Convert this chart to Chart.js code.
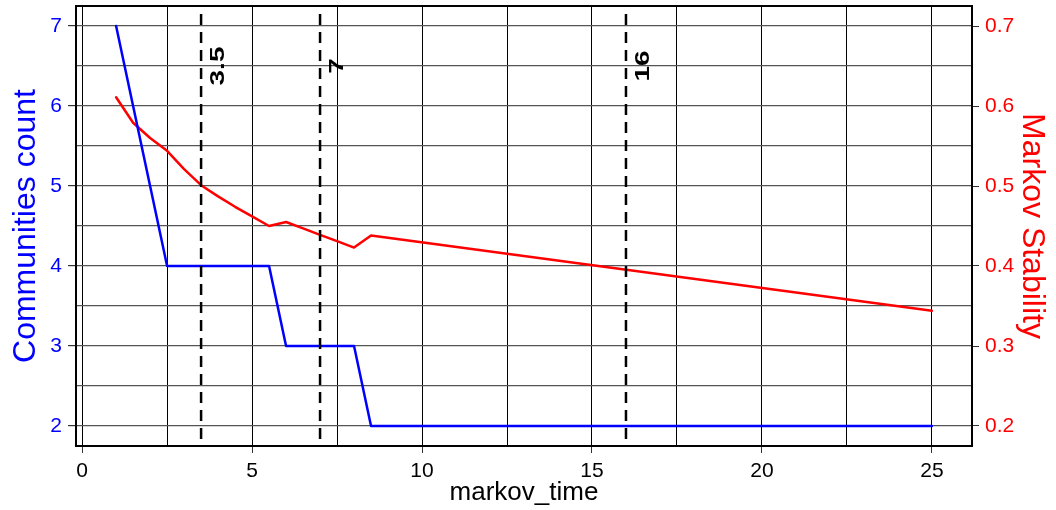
<!DOCTYPE html>
<html>
<head>
<meta charset="utf-8">
<script src="https://cdn.jsdelivr.net/npm/chart.js@4"></script>
<style>
  body { margin: 0; background: #fff; }
  #wrap { width: 1056px; height: 510px; position: relative; }
</style>
</head>
<body>
<div id="wrap"><canvas id="markov-chart"></canvas></div>
<script>
// markov time values (shared by both series)
const markovTime = [1, 1.5, 2, 2.5, 3, 3.5, 4, 4.5, 5, 5.5, 6, 6.5, 7, 7.5, 8, 8.5, 25]
// number of communities found at each markov time
const communities = [7, 6, 5, 4, 4, 4, 4, 4, 4, 4, 3, 3, 3, 3, 3, 2, 2]
// markov stability at each markov time
const stability = [0.611, 0.579, 0.560, 0.544, 0.521, 0.501, 0.487, 0.474, 0.462, 0.450,
                   0.455, 0.447, 0.439, 0.431, 0.423, 0.438, 0.344]
// marked markov times (dashed lines)
const markedTimes = [3.5, 7, 16]
const markedLabels = ['3.5', '7', '16']
// grid / tick values
const xGridTicks = [0, 2.5, 5, 7.5, 10, 12.5, 15, 17.5, 20, 22.5, 25]
const countGridTicks = [2, 2.5, 3, 3.5, 4, 4.5, 5, 5.5, 6, 6.5, 7]
const stabilityTicks = [0.2, 0.3, 0.4, 0.5, 0.6, 0.7]

const FONT = 'Liberation Sans, Arial, Helvetica, sans-serif'

// dashed vertical lines with rotated labels + frame round the plot
const markerPlugin = {
  id: 'markers',
  afterDatasetsDraw(chart) {
    const {ctx, chartArea, scales} = chart
    ctx.save()
    ctx.strokeStyle = '#000'
    ctx.lineWidth = 2.5
    ctx.setLineDash([11, 7])
    markedTimes.forEach((t, i) => {
      const px = scales.x.getPixelForValue(t)
      ctx.beginPath()
      ctx.moveTo(px, chartArea.top + 8)
      ctx.lineTo(px, chartArea.bottom)
      ctx.stroke()
      // label, reading bottom to top
      ctx.save()
      ctx.translate(px, scales.y.getPixelForValue(6.5))
      ctx.rotate(-Math.PI / 2)
      ctx.scale(1.4, 1)
      ctx.fillStyle = '#000'
      ctx.font = 'bold 20px ' + FONT
      ctx.textAlign = 'center'
      ctx.textBaseline = 'alphabetic'
      ctx.fillText(markedLabels[i], 0, 23)
      ctx.restore()
    })
    ctx.restore()
  },
  afterDraw(chart) {
    const {ctx, chartArea} = chart
    ctx.save()
    ctx.setLineDash([])
    ctx.strokeStyle = '#000'
    ctx.lineWidth = 2
    ctx.strokeRect(chartArea.left, chartArea.top, chartArea.right - chartArea.left, chartArea.bottom - chartArea.top)
    ctx.restore()
  }
}

function noPadding(scale) {
  scale.paddingTop = 0
  scale.paddingBottom = 0
  scale.paddingLeft = 0
  scale.paddingRight = 0
}

const chartCanvas = document.querySelector('#markov-chart')

const markovChart = new Chart(chartCanvas, {
  type: 'line',
  data: {
    datasets: [
      {
        label: 'Communities count',
        data: markovTime.map((t, i) => ({x: t, y: communities[i]})),
        borderColor: '#0000ff',
        borderWidth: 2.5,
        pointRadius: 0,
        yAxisID: 'y'
      },
      {
        label: 'Markov Stability',
        data: markovTime.map((t, i) => ({x: t, y: stability[i]})),
        borderColor: '#ff0000',
        borderWidth: 2.5,
        pointRadius: 0,
        yAxisID: 'y2'
      }
    ]
  },
  options: {
    responsive: true,
    maintainAspectRatio: false,
    animation: false,
    layout: { padding: { top: 6, left: 0, right: 0, bottom: 0 } },
    elements: { line: { tension: 0, borderJoinStyle: 'round', borderCapStyle: 'round' } },
    plugins: {
      legend: { display: false },
      tooltip: { enabled: false }
    },
    scales: {
      x: {
        type: 'linear',
        min: -0.18,
        max: 26.18,
        afterBuildTicks(scale) { scale.ticks = xGridTicks.map(v => ({value: v})) },
        afterFit(scale) { scale.height = 64; noPadding(scale) },
        border: { display: false },
        grid: {
          color: '#000',
          lineWidth: 1,
          tickLength: 7,
          tickColor: (c) => (c.tick && c.tick.value % 5 === 0) ? '#333' : 'rgba(0,0,0,0)'
        },
        ticks: {
          autoSkip: false,
          maxRotation: 0,
          padding: 6,
          color: '#000',
          font: { family: FONT, size: 21 },
          callback: (v) => v % 5 === 0 ? v : ''
        },
        title: {
          display: true,
          text: 'markov_time',
          color: '#000',
          font: { family: FONT, size: 26, lineHeight: 1 },
          padding: { top: 0, bottom: 4 }
        }
      },
      y: {
        position: 'left',
        min: 1.75,
        max: 7.25,
        afterBuildTicks(scale) { scale.ticks = countGridTicks.map(v => ({value: v})) },
        afterFit(scale) { scale.width = 76; noPadding(scale) },
        border: { display: false },
        grid: {
          color: '#555',
          lineWidth: 1.2,
          tickLength: 8,
          tickColor: (c) => (c.tick && c.tick.value % 1 === 0) ? '#333' : 'rgba(0,0,0,0)'
        },
        ticks: {
          autoSkip: false,
          padding: 6,
          color: '#0000ff',
          font: { family: FONT, size: 21 },
          callback: (v) => v % 1 === 0 ? v : ''
        },
        title: {
          display: true,
          text: 'Communities count',
          color: '#0000ff',
          font: { family: FONT, size: 32, lineHeight: 1 },
          padding: { top: 10, bottom: 0 }
        }
      },
      y2: {
        position: 'right',
        min: 0.175,
        max: 0.725,
        afterBuildTicks(scale) { scale.ticks = stabilityTicks.map(v => ({value: v})) },
        afterFit(scale) { scale.width = 84; noPadding(scale) },
        border: { display: false },
        grid: {
          drawOnChartArea: false,
          tickLength: 7,
          tickColor: '#333'
        },
        ticks: {
          autoSkip: false,
          padding: 6,
          color: '#ff0000',
          font: { family: FONT, size: 21 },
          callback: (v) => v.toFixed(1)
        },
        title: {
          display: true,
          text: 'Markov Stability',
          color: '#ff0000',
          font: { family: FONT, size: 32, lineHeight: 1 },
          padding: { top: 8, bottom: 0 }
        }
      }
    }
  },
  plugins: [markerPlugin]
})
</script>
</body>
</html>
